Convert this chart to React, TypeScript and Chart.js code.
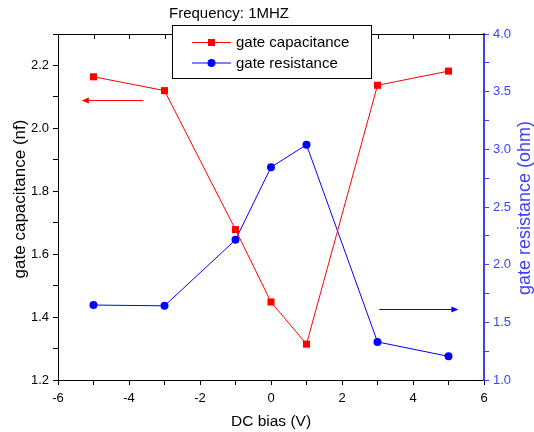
import React, { useEffect, useRef } from "react";
import { Chart, registerables } from "chart.js";

Chart.register(...registerables);

const biasValues = [-5, -3, -1, 0, 1, 3, 5];
const capacitance = [2.164, 2.12, 1.678, 1.448, 1.314, 2.137, 2.182];
const resistance = [1.65, 1.643, 2.215, 2.845, 3.04, 1.33, 1.205];

const titleText = "Frequency: 1MHZ";
const capLabel = "gate capacitance";
const resLabel = "gate resistance";
const xTitle = "DC bias (V)";
const yTitle = "gate capacitance (nf)";
const y1Title = "gate resistance (ohm)";

// arrows in data coordinates: [xStart, xEnd], y
const capArrowX = [-3.6, -5.3];
const capArrowY = 2.09;
const resArrowX = [3.05, 5.25];
const resArrowY = 1.615;

const RED = "#ff0000";
const BLUE = "#0000ff";
const AXIS_BLUE = "#3f3fff";
const FONT = "'Liberation Sans', Arial, sans-serif";

function arrow(ctx: CanvasRenderingContext2D, x1: number, x2: number, y: number, color: string) {
  ctx.save();
  ctx.strokeStyle = color;
  ctx.fillStyle = color;
  ctx.lineWidth = 1;
  ctx.beginPath();
  ctx.moveTo(x1, y);
  ctx.lineTo(x2, y);
  ctx.stroke();
  const dir = x2 > x1 ? 1 : -1;
  ctx.beginPath();
  ctx.moveTo(x2 + dir * 1, y);
  ctx.lineTo(x2 - dir * 6, y - 3);
  ctx.lineTo(x2 - dir * 6, y + 3);
  ctx.closePath();
  ctx.fill();
  ctx.restore();
}

const decorPlugin = {
  id: "decor",
  afterDraw(chart: any) {
    const ctx: CanvasRenderingContext2D = chart.ctx;
    const area = chart.chartArea;
    const xs = chart.scales.x;
    const ys = chart.scales.y;
    const y1s = chart.scales.y1;
    ctx.save();
    // top border with inward ticks
    ctx.strokeStyle = "#000";
    ctx.lineWidth = 1;
    ctx.beginPath();
    ctx.moveTo(area.left, area.top + 0.5);
    ctx.lineTo(area.right, area.top + 0.5);
    for (let v = -5; v <= 5; v++) {
      const px = Math.round(xs.getPixelForValue(v)) + 0.5;
      ctx.moveTo(px, area.top);
      ctx.lineTo(px, area.top + 5);
    }
    ctx.stroke();

    // arrows
    arrow(ctx, xs.getPixelForValue(capArrowX[0]), xs.getPixelForValue(capArrowX[1]), Math.round(ys.getPixelForValue(capArrowY)) + 0.5, RED);
    arrow(ctx, xs.getPixelForValue(resArrowX[0]), xs.getPixelForValue(resArrowX[1]), Math.round(y1s.getPixelForValue(resArrowY)) + 0.5, BLUE);

    // title
    ctx.fillStyle = "#000";
    ctx.font = `15px ${FONT}`;
    ctx.textBaseline = "middle";
    ctx.textAlign = "left";
    ctx.fillText(titleText, 169, 14);

    // axis titles
    ctx.textAlign = "center";
    ctx.font = `15.5px ${FONT}`;
    ctx.fillText(xTitle, (area.left + area.right) / 2, 422);
    ctx.save();
    ctx.font = `17px ${FONT}`;
    ctx.translate(20, 199);
    ctx.rotate(-Math.PI / 2);
    ctx.fillText(yTitle, 0, 0);
    ctx.restore();
    ctx.save();
    ctx.font = `18px ${FONT}`;
    ctx.fillStyle = AXIS_BLUE;
    ctx.translate(525, 208);
    ctx.rotate(-Math.PI / 2);
    ctx.fillText(y1Title, 0, 0);
    ctx.restore();

    // legend
    const lx = 172.5, ly = 25.5, lw = 199, lh = 53;
    ctx.fillStyle = "#fff";
    ctx.fillRect(lx, ly, lw, lh);
    ctx.strokeStyle = "#000";
    ctx.strokeRect(lx, ly, lw, lh);
    const rows = [
      { label: capLabel, color: RED, y: 42, shape: "rect" },
      { label: resLabel, color: BLUE, y: 62.5, shape: "circle" },
    ];
    for (const r of rows) {
      ctx.strokeStyle = r.color;
      ctx.fillStyle = r.color;
      ctx.beginPath();
      ctx.moveTo(192, r.y + 0.5);
      ctx.lineTo(231, r.y + 0.5);
      ctx.stroke();
      if (r.shape === "rect") {
        ctx.fillRect(211.5 - 3.5, r.y + 0.5 - 3.5, 7, 7);
      } else {
        ctx.beginPath();
        ctx.arc(211.5, r.y + 0.5, 4, 0, Math.PI * 2);
        ctx.fill();
      }
      ctx.fillStyle = "#000";
      ctx.textAlign = "left";
      ctx.font = `15px ${FONT}`;
      ctx.fillText(r.label, 236, r.y + 1);
    }
    ctx.restore();
  },
};

export default function App() {
  const ref = useRef<HTMLCanvasElement | null>(null);
  useEffect(() => {
    if (!ref.current) return;
    Chart.defaults.font.family = FONT;
    const chart = new Chart(ref.current, {
      type: "line",
      data: {
        datasets: [
          {
            label: capLabel,
            data: biasValues.map((x, i) => ({ x, y: capacitance[i] })),
            borderColor: RED,
            backgroundColor: RED,
            borderWidth: 1,
            pointStyle: "rect",
            pointRadius: 5,
            pointBorderWidth: 0,
            yAxisID: "y",
          },
          {
            label: resLabel,
            data: biasValues.map((x, i) => ({ x, y: resistance[i] })),
            borderColor: BLUE,
            backgroundColor: BLUE,
            borderWidth: 1,
            pointStyle: "circle",
            pointRadius: 4,
            pointBorderWidth: 0,
            yAxisID: "y1",
          },
        ],
      },
      options: {
        animation: false,
        responsive: false,
        layout: { padding: { top: 34, left: 0, right: 0, bottom: 0 } },
        plugins: { legend: { display: false }, title: { display: false }, tooltip: { enabled: false } },
        scales: {
          x: {
            type: "linear",
            position: "bottom",
            min: -6,
            max: 6,
            afterFit: (s: any) => { s.height = 52; },
            ticks: {
              stepSize: 1,
              autoSkip: false,
              maxRotation: 0,
              padding: 6,
              color: "#000",
              font: { size: 13, family: FONT },
              callback: (v: any) => (Math.round(v) % 2 === 0 ? String(v) : ""),
            },
            grid: { drawOnChartArea: false, tickLength: 5, color: "#000", tickColor: "#000" },
            border: { color: "#000", width: 1 },
          },
          y: {
            type: "linear",
            position: "left",
            min: 1.2,
            max: 2.3,
            afterFit: (s: any) => { s.width = 58; },
            ticks: {
              stepSize: 0.1,
              autoSkip: false,
              padding: 4,
              color: "#000",
              font: { size: 13, family: FONT },
              callback: (v: any) => (Math.round(v * 10) % 2 === 0 ? Number(v).toFixed(1) : ""),
            },
            grid: { drawOnChartArea: false, tickLength: 5, color: "#000", tickColor: "#000" },
            border: { color: "#000", width: 1 },
          },
          y1: {
            type: "linear",
            position: "right",
            min: 1,
            max: 4,
            afterFit: (s: any) => { s.width = 50; },
            ticks: {
              stepSize: 0.25,
              autoSkip: false,
              padding: 4,
              color: AXIS_BLUE,
              font: { size: 13, family: FONT },
              callback: (v: any) => (Math.round(v * 4) % 2 === 0 ? Number(v).toFixed(1) : ""),
            },
            grid: { drawOnChartArea: false, tickLength: 5, color: AXIS_BLUE, tickColor: AXIS_BLUE },
            border: { color: AXIS_BLUE, width: 2 },
          },
        },
      },
      plugins: [decorPlugin],
    } as any);
    return () => chart.destroy();
  }, []);
  return (
    <div style={{ position: "absolute", left: 0, top: 0, width: 534, height: 432, background: "#fff" }}>
      <canvas ref={ref} width={534} height={432} />
    </div>
  );
}
